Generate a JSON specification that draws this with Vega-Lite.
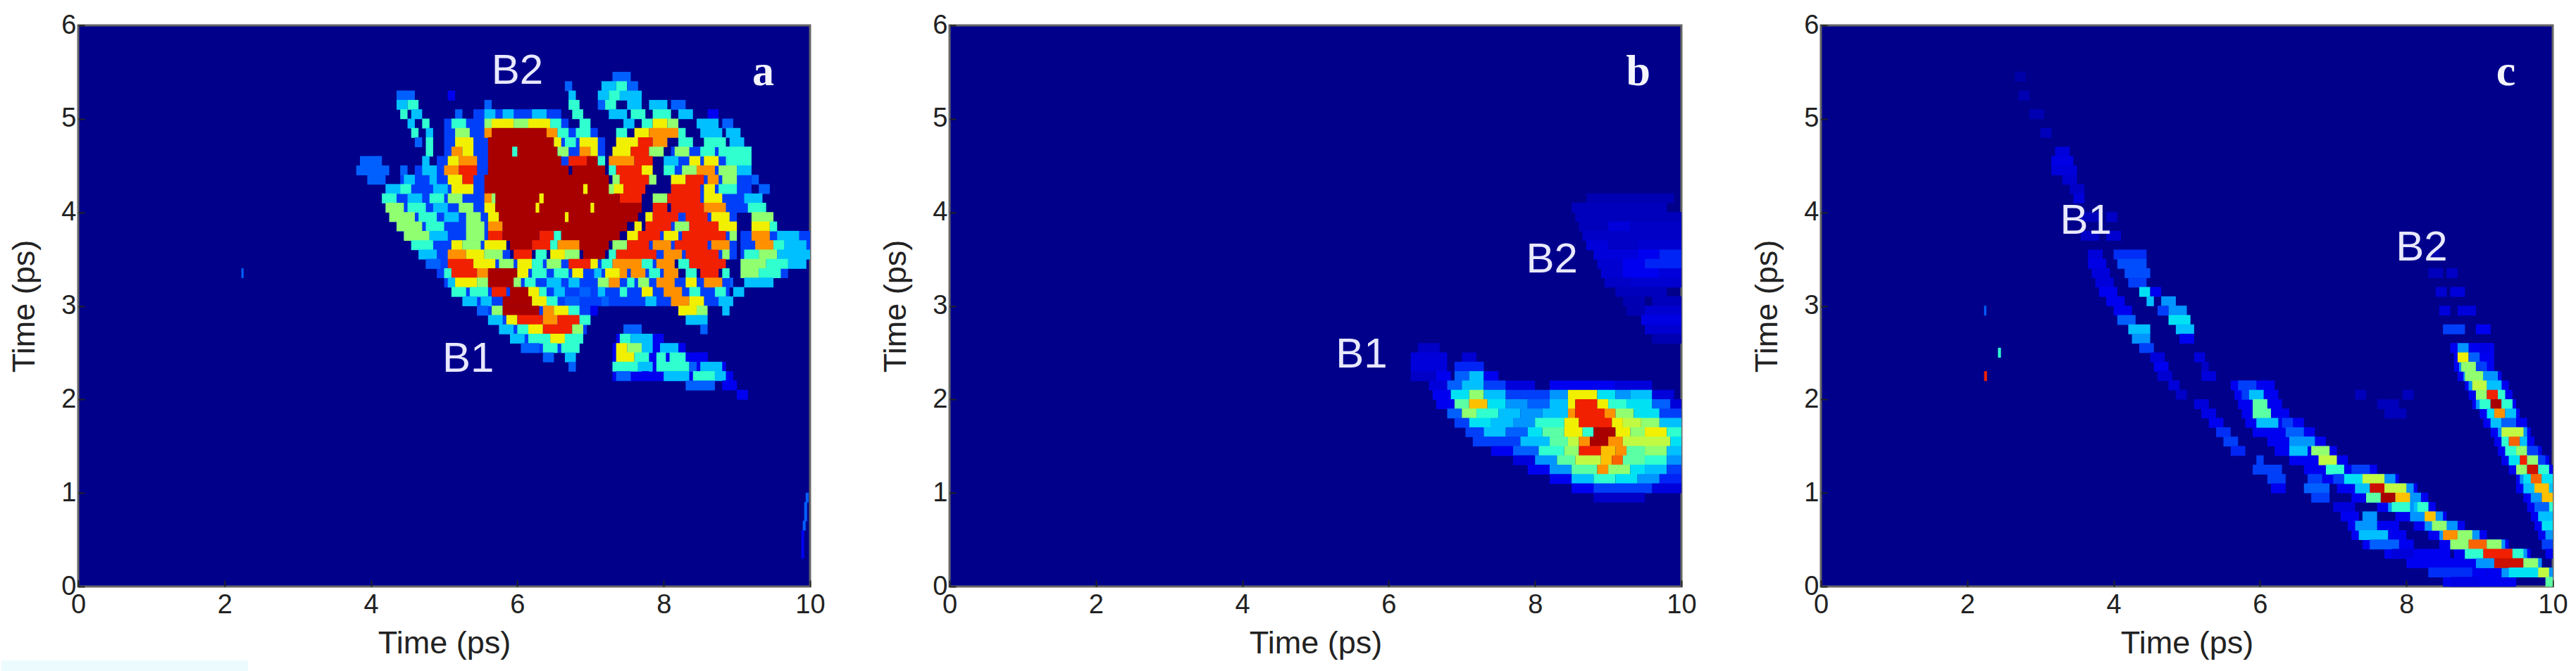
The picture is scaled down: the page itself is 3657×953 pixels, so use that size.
{"$schema":"https://vega.github.io/schema/vega-lite/v6.json","padding":{"left":0,"top":15,"right":0,"bottom":0},"background":"white","spacing":75,
"config":{"view":{"fill":"#00008b","stroke":"#666666","strokeWidth":3},"axis":{"grid":false,"domain":false,"tickSize":-9,"tickColor":"#222222","tickWidth":2,"labelFont":"Liberation Sans","titleFont":"Liberation Sans","labelFontSize":38,"titleFontSize":45,"titleFontWeight":"normal","labelColor":"#222222","titleColor":"#222222","labelOverlap":false,"labelFlush":false,"format":"d"},"axisX":{"labelPadding":16,"titlePadding":13},"axisY":{"labelPadding":12,"titlePadding":29}},
"datasets":{
"smear":[{"x":-1.05,"e":2.32,"y":-0.92,"y2":-0.79}],
"ta":[{"x":6.0,"y":5.51,"t":"B2"},{"x":5.33,"y":2.43,"t":"B1"}],"la":[{"x":9.36,"y":5.5,"t":"a"}],
"tb":[{"x":8.23,"y":3.49,"t":"B2"},{"x":5.63,"y":2.48,"t":"B1"}],"lb":[{"x":9.41,"y":5.5,"t":"b"}],
"tc":[{"x":3.62,"y":3.91,"t":"B1"},{"x":8.21,"y":3.62,"t":"B2"}],"lc":[{"x":9.36,"y":5.5,"t":"c"}],
"ua":[{"x":5.4,"e":6.6,"y":5.05,"v":1.5},{"x":5,"e":6.7,"y":4.95,"v":1.5},{"x":5,"e":7.1,"y":4.85,"v":1.5},{"x":5,"e":7.2,"y":4.75,"v":1.5},{"x":5,"e":7.2,"y":4.65,"v":1.5},{"x":4.9,"e":7.2,"y":4.55,"v":1.5},{"x":4.6,"e":5.6,"y":4.45,"v":1.5},{"x":4.4,"e":5.6,"y":4.35,"v":1.5},{"x":4.2,"e":5.6,"y":4.25,"v":1.5},{"x":4.15,"e":5.6,"y":4.15,"v":1.5},{"x":4.2,"e":5.6,"y":4.05,"v":1.5},{"x":4.25,"e":5.6,"y":3.95,"v":1.5},{"x":4.35,"e":5.6,"y":3.85,"v":1.5},{"x":4.45,"e":5.6,"y":3.75,"v":1.5},{"x":4.55,"e":5.6,"y":3.65,"v":1.5},{"x":4.65,"e":5.9,"y":3.55,"v":1.5},{"x":4.75,"e":7.9,"y":3.45,"v":1.5},{"x":4.9,"e":8,"y":3.35,"v":1.5},{"x":5,"e":8.9,"y":3.25,"v":1.5},{"x":5.1,"e":8.9,"y":3.15,"v":1.5},{"x":5.25,"e":8.9,"y":3.05,"v":1.5},{"x":5.45,"e":7,"y":2.95,"v":1.5},{"x":5.6,"e":7,"y":2.85,"v":1.5},{"x":5.75,"e":6.95,"y":2.75,"v":1.5},{"x":5.9,"e":6.9,"y":2.65,"v":1.5},{"x":6.05,"e":6.85,"y":2.55,"v":1.5},{"x":8.1,"e":9.2,"y":4.65,"v":1.5},{"x":8.1,"e":9.2,"y":4.55,"v":1.5},{"x":8.1,"e":9.2,"y":4.45,"v":1.5},{"x":8.1,"e":9.2,"y":4.35,"v":1.5},{"x":8.1,"e":9.2,"y":4.25,"v":1.5},{"x":8.1,"e":9.2,"y":4.15,"v":1.5},{"x":8.1,"e":9.2,"y":4.05,"v":1.5},{"x":7.8,"e":9,"y":3.95,"v":1.5},{"x":7.8,"e":9,"y":3.85,"v":1.5},{"x":7.8,"e":9,"y":3.75,"v":1.5},{"x":7.8,"e":9,"y":3.65,"v":1.5},{"x":7.8,"e":9,"y":3.55,"v":1.5},{"x":9.05,"e":10,"y":3.75,"v":1.5},{"x":9.05,"e":10,"y":3.65,"v":1.5},{"x":9.05,"e":10,"y":3.55,"v":1.5},{"x":9.05,"e":9.9,"y":3.45,"v":1.5},{"x":9.05,"e":9.7,"y":3.35,"v":1.5},{"x":7.35,"e":8.0,"y":2.65,"v":1},{"x":7.3,"e":8.3,"y":2.55,"v":1},{"x":7.3,"e":8.6,"y":2.45,"v":1},{"x":7.3,"e":8.85,"y":2.35,"v":1},{"x":7.3,"e":8.95,"y":2.25,"v":1}],
"uc":[{"x":5.6,"e":6.2,"y":2.15,"v":1},{"x":5.65,"e":6.25,"y":2.05,"v":1},{"x":5.7,"e":6.3,"y":1.95,"v":1},{"x":5.75,"e":6.4,"y":1.85,"v":1},{"x":5.8,"e":6.6,"y":1.75,"v":1},{"x":5.9,"e":6.75,"y":1.65,"v":1},{"x":6.1,"e":6.9,"y":1.55,"v":1},{"x":6.2,"e":7.05,"y":1.45,"v":1},{"x":6.4,"e":7.2,"y":1.35,"v":1},{"x":6.6,"e":7.6,"y":1.25,"v":1},{"x":6.85,"e":7.9,"y":1.15,"v":1},{"x":7.05,"e":8.15,"y":1.05,"v":1},{"x":7.25,"e":8.3,"y":0.95,"v":1},{"x":7.6,"e":8.4,"y":0.85,"v":1},{"x":7.85,"e":8.55,"y":0.75,"v":1},{"x":8.1,"e":8.8,"y":0.65,"v":1},{"x":8.3,"e":9.1,"y":0.55,"v":1},{"x":8.45,"e":9.4,"y":0.45,"v":1},{"x":8.65,"e":9.7,"y":0.35,"v":1},{"x":8.8,"e":9.85,"y":0.25,"v":1},{"x":9.1,"e":10,"y":0.15,"v":1},{"x":7.2,"e":7.9,"y":0.65,"v":1},{"x":7.25,"e":8,"y":0.55,"v":1},{"x":7.4,"e":8.1,"y":0.45,"v":1},{"x":7.7,"e":8.6,"y":0.35,"v":1},{"x":8,"e":8.9,"y":0.25,"v":1},{"x":8.3,"e":9.1,"y":0.15,"v":1},{"x":8.5,"e":9.5,"y":0.05,"v":1},{"x":8.6,"e":9.2,"y":2.55,"v":1},{"x":8.65,"e":9.2,"y":2.45,"v":1},{"x":8.65,"e":9.2,"y":2.35,"v":1},{"x":8.7,"e":9.3,"y":2.25,"v":1},{"x":8.8,"e":9.4,"y":2.15,"v":1},{"x":8.85,"e":9.45,"y":2.05,"v":1},{"x":8.9,"e":9.5,"y":1.95,"v":1},{"x":9,"e":9.55,"y":1.85,"v":1},{"x":9.05,"e":9.65,"y":1.75,"v":1},{"x":9.15,"e":9.7,"y":1.65,"v":1},{"x":9.2,"e":9.75,"y":1.55,"v":1},{"x":9.25,"e":9.85,"y":1.45,"v":1},{"x":9.3,"e":9.95,"y":1.35,"v":1},{"x":9.4,"e":10,"y":1.25,"v":1},{"x":9.5,"e":10,"y":1.15,"v":1},{"x":9.5,"e":10,"y":1.05,"v":1},{"x":9.6,"e":10,"y":0.95,"v":1},{"x":9.65,"e":10,"y":0.85,"v":1},{"x":9.7,"e":10,"y":0.75,"v":1},{"x":9.75,"e":10,"y":0.65,"v":1},{"x":9.8,"e":10,"y":0.55,"v":1},
{"x":7.15,"e":7.85,"y":1.15,"v":2.5},{"x":7.3,"e":8.1,"y":1.05,"v":2.5},{"x":7.45,"e":8.2,"y":0.95,"v":2.5},{"x":7.75,"e":8.3,"y":0.85,"v":2.5},{"x":8.05,"e":8.5,"y":0.75,"v":2.5},{"x":8.25,"e":8.7,"y":0.65,"v":2.5},{"x":8.45,"e":9,"y":0.55,"v":2.5},{"x":8.6,"e":9.35,"y":0.45,"v":2.5},{"x":8.8,"e":9.65,"y":0.35,"v":2.5},{"x":9,"e":9.85,"y":0.25,"v":2.5},{"x":9.3,"e":10,"y":0.15,"v":2.5},{"x":8.72,"e":9.05,"y":2.35,"v":2.5},{"x":8.78,"e":9.2,"y":2.25,"v":2.5},{"x":8.85,"e":9.3,"y":2.15,"v":2.5},{"x":8.95,"e":9.45,"y":1.95,"v":2.5},{"x":9.25,"e":9.65,"y":1.65,"v":2.5},{"x":9.4,"e":9.85,"y":1.35,"v":2.5},{"x":9.55,"e":10,"y":1.15,"v":2.5},{"x":9.6,"e":10,"y":1.05,"v":2.5}],
"a":[
{"x":7.3,"e":7.55,"y":5.45,"v":2},
{"x":6.65,"e":6.75,"y":5.35,"v":2},{"x":7.15,"e":7.35,"y":5.35,"v":3},{"x":7.35,"e":7.5,"y":5.35,"v":4},{"x":7.5,"e":7.65,"y":5.35,"v":2},
{"x":4.35,"e":4.6,"y":5.25,"v":2},{"x":5.05,"e":5.15,"y":5.25,"v":1},{"x":6.7,"e":6.8,"y":5.25,"v":3},{"x":7.1,"e":7.25,"y":5.25,"v":3},{"x":7.25,"e":7.4,"y":5.25,"v":4},{"x":7.4,"e":7.7,"y":5.25,"v":3},
{"x":4.35,"e":4.5,"y":5.15,"v":3},{"x":4.5,"e":4.65,"y":5.15,"v":4},{"x":5.55,"e":5.65,"y":5.15,"v":2},{"x":6.7,"e":6.85,"y":5.15,"v":4},{"x":7.1,"e":7.2,"y":5.15,"v":2},{"x":7.2,"e":7.35,"y":5.15,"v":4},{"x":7.5,"e":7.7,"y":5.15,"v":3},{"x":7.8,"e":8.05,"y":5.15,"v":3},{"x":8.1,"e":8.3,"y":5.15,"v":2},
{"x":4.4,"e":4.5,"y":5.05,"v":4},{"x":4.55,"e":4.7,"y":5.05,"v":3},{"x":5.15,"e":5.25,"y":5.05,"v":2},{"x":5.55,"e":5.7,"y":5.05,"v":3},{"x":5.8,"e":5.95,"y":5.05,"v":3},{"x":6.2,"e":6.4,"y":5.05,"v":3},{"x":6.75,"e":6.9,"y":5.05,"v":4},{"x":7.25,"e":7.5,"y":5.05,"v":3},{"x":7.55,"e":7.75,"y":5.05,"v":4},{"x":7.85,"e":8.1,"y":5.05,"v":4},{"x":8.2,"e":8.4,"y":5.05,"v":3},{"x":8.6,"e":8.75,"y":5.05,"v":1},
{"x":4.5,"e":4.6,"y":4.95,"v":3},{"x":4.7,"e":4.8,"y":4.95,"v":4},{"x":5.1,"e":5.3,"y":4.95,"v":4},{"x":5.55,"e":5.65,"y":4.95,"v":5},{"x":5.65,"e":5.95,"y":4.95,"v":6},{"x":5.95,"e":6.15,"y":4.95,"v":5},{"x":6.15,"e":6.45,"y":4.95,"v":6},{"x":6.45,"e":6.6,"y":4.95,"v":4},{"x":6.85,"e":7,"y":4.95,"v":4},{"x":7.45,"e":7.6,"y":4.95,"v":3},{"x":7.7,"e":7.85,"y":4.95,"v":4},{"x":7.85,"e":8.05,"y":4.95,"v":6},{"x":8.05,"e":8.2,"y":4.95,"v":5},{"x":8.45,"e":8.75,"y":4.95,"v":3},{"x":8.8,"e":8.95,"y":4.95,"v":2},
{"x":4.55,"e":4.65,"y":4.85,"v":4},{"x":4.75,"e":4.85,"y":4.85,"v":3},{"x":5.15,"e":5.35,"y":4.85,"v":5},{"x":5.55,"e":5.65,"y":4.85,"v":7},{"x":5.65,"e":6.4,"y":4.85,"v":9},{"x":6.4,"e":6.55,"y":4.85,"v":7},{"x":6.55,"e":6.7,"y":4.85,"v":4},{"x":6.8,"e":7,"y":4.85,"v":4},{"x":7.35,"e":7.5,"y":4.85,"v":4},{"x":7.6,"e":7.8,"y":4.85,"v":6},{"x":7.8,"e":8.2,"y":4.85,"v":7},{"x":8.2,"e":8.3,"y":4.85,"v":4},{"x":8.5,"e":8.8,"y":4.85,"v":3},{"x":8.85,"e":9.05,"y":4.85,"v":3},
{"x":4.6,"e":4.7,"y":4.75,"v":2},{"x":4.75,"e":4.85,"y":4.75,"v":4},{"x":5.15,"e":5.4,"y":4.75,"v":6},{"x":5.6,"e":6.5,"y":4.75,"v":9},{"x":6.5,"e":6.6,"y":4.75,"v":6},{"x":6.65,"e":6.8,"y":4.75,"v":4},{"x":6.85,"e":7.1,"y":4.75,"v":6},{"x":7.35,"e":7.65,"y":4.75,"v":6},{"x":7.65,"e":7.85,"y":4.75,"v":8},{"x":7.85,"e":8.05,"y":4.75,"v":7},{"x":8.2,"e":8.4,"y":4.75,"v":4},{"x":8.55,"e":8.85,"y":4.75,"v":4},{"x":8.9,"e":9.1,"y":4.75,"v":3},
{"x":4.75,"e":4.85,"y":4.65,"v":4},{"x":5.1,"e":5.25,"y":4.65,"v":7},{"x":5.25,"e":5.4,"y":4.65,"v":6},{"x":5.6,"e":6.55,"y":4.65,"v":9},{"x":6.55,"e":6.7,"y":4.65,"v":5},{"x":6.85,"e":7,"y":4.65,"v":7},{"x":7,"e":7.1,"y":4.65,"v":6},{"x":7.3,"e":7.55,"y":4.65,"v":6},{"x":7.55,"e":7.8,"y":4.65,"v":8},{"x":7.8,"e":8,"y":4.65,"v":5},{"x":8.15,"e":8.35,"y":4.65,"v":5},{"x":8.5,"e":8.7,"y":4.65,"v":4},{"x":8.75,"e":9.2,"y":4.65,"v":4},
{"x":3.85,"e":4.15,"y":4.55,"v":2},{"x":4.7,"e":4.8,"y":4.55,"v":3},{"x":5.05,"e":5.2,"y":4.55,"v":6},{"x":5.2,"e":5.45,"y":4.55,"v":7},{"x":5.6,"e":6.6,"y":4.55,"v":9},{"x":6.7,"e":6.95,"y":4.55,"v":8},{"x":6.95,"e":7.1,"y":4.55,"v":9},{"x":7.1,"e":7.2,"y":4.55,"v":4},{"x":7.25,"e":7.6,"y":4.55,"v":7},{"x":7.6,"e":7.85,"y":4.55,"v":8},{"x":8,"e":8.2,"y":4.55,"v":3},{"x":8.35,"e":8.5,"y":4.55,"v":6},{"x":8.55,"e":8.75,"y":4.55,"v":6},{"x":8.85,"e":9.2,"y":4.55,"v":4},
{"x":3.8,"e":4.25,"y":4.45,"v":2},{"x":4.4,"e":4.5,"y":4.45,"v":2},{"x":4.7,"e":4.9,"y":4.45,"v":3},{"x":5,"e":5.2,"y":4.45,"v":7},{"x":5.2,"e":5.45,"y":4.45,"v":8},{"x":5.6,"e":6.7,"y":4.45,"v":9},{"x":6.75,"e":7.2,"y":4.45,"v":9},{"x":7.25,"e":7.35,"y":4.45,"v":4},{"x":7.35,"e":7.7,"y":4.45,"v":8},{"x":7.7,"e":7.85,"y":4.45,"v":6},{"x":8,"e":8.15,"y":4.45,"v":4},{"x":8.25,"e":8.45,"y":4.45,"v":5},{"x":8.45,"e":8.7,"y":4.45,"v":7},{"x":8.75,"e":9,"y":4.45,"v":5},{"x":9,"e":9.2,"y":4.45,"v":3},
{"x":3.95,"e":4.2,"y":4.35,"v":2},{"x":4.45,"e":4.6,"y":4.35,"v":3},{"x":4.8,"e":4.9,"y":4.35,"v":3},{"x":5.05,"e":5.25,"y":4.35,"v":6},{"x":5.25,"e":5.4,"y":4.35,"v":8},{"x":5.55,"e":7.25,"y":4.35,"v":9},{"x":7.3,"e":7.4,"y":4.35,"v":5},{"x":7.4,"e":7.8,"y":4.35,"v":8},{"x":7.8,"e":7.9,"y":4.35,"v":5},{"x":8.1,"e":8.3,"y":4.35,"v":6},{"x":8.3,"e":8.55,"y":4.35,"v":8},{"x":8.6,"e":8.75,"y":4.35,"v":7},{"x":8.8,"e":9,"y":4.35,"v":5},{"x":9.2,"e":9.3,"y":4.35,"v":2},
{"x":4.2,"e":4.4,"y":4.25,"v":3},{"x":4.4,"e":4.55,"y":4.25,"v":4},{"x":4.85,"e":5.05,"y":4.25,"v":3},{"x":5.1,"e":5.4,"y":4.25,"v":6},{"x":5.55,"e":7.3,"y":4.25,"v":9},{"x":7.3,"e":7.45,"y":4.25,"v":6},{"x":7.45,"e":7.75,"y":4.25,"v":8},{"x":8.1,"e":8.5,"y":4.25,"v":8},{"x":8.55,"e":8.7,"y":4.25,"v":6},{"x":8.75,"e":9,"y":4.25,"v":4},{"x":9.3,"e":9.45,"y":4.25,"v":2},
{"x":4.15,"e":4.35,"y":4.15,"v":4},{"x":4.5,"e":4.7,"y":4.15,"v":3},{"x":4.8,"e":5,"y":4.15,"v":4},{"x":5.05,"e":5.25,"y":4.15,"v":5},{"x":5.55,"e":5.7,"y":4.15,"v":7},{"x":5.7,"e":7.4,"y":4.15,"v":9},{"x":7.4,"e":7.7,"y":4.15,"v":8},{"x":7.85,"e":8.05,"y":4.15,"v":5},{"x":8.05,"e":8.5,"y":4.15,"v":8},{"x":8.55,"e":8.8,"y":4.15,"v":6},{"x":9.1,"e":9.35,"y":4.15,"v":3},
{"x":4.2,"e":4.45,"y":4.05,"v":5},{"x":4.5,"e":4.75,"y":4.05,"v":4},{"x":4.85,"e":5.05,"y":4.05,"v":3},{"x":5.2,"e":5.4,"y":4.05,"v":5},{"x":5.55,"e":5.7,"y":4.05,"v":6},{"x":5.7,"e":7.7,"y":4.05,"v":9},{"x":7.85,"e":8.05,"y":4.05,"v":8},{"x":8.1,"e":8.55,"y":4.05,"v":8},{"x":8.55,"e":8.85,"y":4.05,"v":7},{"x":9.15,"e":9.4,"y":4.05,"v":4},
{"x":4.25,"e":4.6,"y":3.95,"v":5},{"x":4.65,"e":4.9,"y":3.95,"v":4},{"x":5,"e":5.2,"y":3.95,"v":3},{"x":5.3,"e":5.5,"y":3.95,"v":5},{"x":5.6,"e":5.75,"y":3.95,"v":6},{"x":5.75,"e":7.65,"y":3.95,"v":9},{"x":7.75,"e":7.85,"y":3.95,"v":6},{"x":7.85,"e":8.2,"y":3.95,"v":8},{"x":8.3,"e":8.6,"y":3.95,"v":8},{"x":8.65,"e":8.9,"y":3.95,"v":6},{"x":9.2,"e":9.5,"y":3.95,"v":5},
{"x":4.35,"e":4.7,"y":3.85,"v":5},{"x":4.75,"e":5,"y":3.85,"v":4},{"x":5.3,"e":5.55,"y":3.85,"v":5},{"x":5.6,"e":5.8,"y":3.85,"v":7},{"x":5.8,"e":7.5,"y":3.85,"v":9},{"x":7.6,"e":7.7,"y":3.85,"v":6},{"x":7.75,"e":8.1,"y":3.85,"v":8},{"x":8.15,"e":8.35,"y":3.85,"v":5},{"x":8.35,"e":8.75,"y":3.85,"v":8},{"x":8.75,"e":9,"y":3.85,"v":6},{"x":9.2,"e":9.45,"y":3.85,"v":6},{"x":9.45,"e":9.55,"y":3.85,"v":4},
{"x":4.45,"e":4.8,"y":3.75,"v":5},{"x":4.8,"e":5.05,"y":3.75,"v":3},{"x":5.3,"e":5.55,"y":3.75,"v":5},{"x":5.6,"e":5.8,"y":3.75,"v":8},{"x":5.8,"e":6.3,"y":3.75,"v":9},{"x":6.3,"e":6.5,"y":3.75,"v":8},{"x":6.5,"e":6.6,"y":3.75,"v":4},{"x":6.6,"e":7.4,"y":3.75,"v":9},{"x":7.5,"e":7.65,"y":3.75,"v":6},{"x":7.65,"e":7.95,"y":3.75,"v":8},{"x":8,"e":8.2,"y":3.75,"v":6},{"x":8.25,"e":8.85,"y":3.75,"v":8},{"x":8.9,"e":9,"y":3.75,"v":5},{"x":9.2,"e":9.45,"y":3.75,"v":7},{"x":9.55,"e":9.85,"y":3.75,"v":3},
{"x":4.55,"e":4.85,"y":3.65,"v":4},{"x":5.1,"e":5.25,"y":3.65,"v":6},{"x":5.25,"e":5.5,"y":3.65,"v":5},{"x":5.55,"e":5.85,"y":3.65,"v":6},{"x":5.9,"e":6.2,"y":3.65,"v":9},{"x":6.2,"e":6.45,"y":3.65,"v":8},{"x":6.45,"e":6.55,"y":3.65,"v":4},{"x":6.55,"e":6.85,"y":3.65,"v":7},{"x":6.85,"e":7.25,"y":3.65,"v":9},{"x":7.3,"e":7.5,"y":3.65,"v":5},{"x":7.5,"e":7.8,"y":3.65,"v":8},{"x":7.85,"e":8.1,"y":3.65,"v":7},{"x":8.15,"e":8.6,"y":3.65,"v":8},{"x":8.65,"e":8.9,"y":3.65,"v":7},{"x":9.25,"e":9.5,"y":3.65,"v":7},{"x":9.5,"e":9.65,"y":3.65,"v":4},{"x":9.65,"e":9.95,"y":3.65,"v":3},
{"x":4.65,"e":4.9,"y":3.55,"v":3},{"x":5.05,"e":5.3,"y":3.55,"v":7},{"x":5.3,"e":5.55,"y":3.55,"v":6},{"x":5.55,"e":5.8,"y":3.55,"v":5},{"x":5.95,"e":6.2,"y":3.55,"v":8},{"x":6.25,"e":6.4,"y":3.55,"v":4},{"x":6.45,"e":6.65,"y":3.55,"v":6},{"x":6.65,"e":6.85,"y":3.55,"v":5},{"x":6.9,"e":7.2,"y":3.55,"v":9},{"x":7.25,"e":7.35,"y":3.55,"v":4},{"x":7.35,"e":7.9,"y":3.55,"v":8},{"x":8,"e":8.25,"y":3.55,"v":7},{"x":8.3,"e":8.75,"y":3.55,"v":8},{"x":8.8,"e":8.9,"y":3.55,"v":5},{"x":9.1,"e":9.3,"y":3.55,"v":4},{"x":9.3,"e":9.55,"y":3.55,"v":5},{"x":9.55,"e":10,"y":3.55,"v":3},
{"x":4.75,"e":4.95,"y":3.45,"v":2},{"x":5.05,"e":5.4,"y":3.45,"v":8},{"x":5.4,"e":5.7,"y":3.45,"v":6},{"x":5.75,"e":5.95,"y":3.45,"v":5},{"x":6,"e":6.2,"y":3.45,"v":6},{"x":6.2,"e":6.35,"y":3.45,"v":4},{"x":6.4,"e":6.6,"y":3.45,"v":5},{"x":6.7,"e":7,"y":3.45,"v":8},{"x":7,"e":7.1,"y":3.45,"v":6},{"x":7.15,"e":7.3,"y":3.45,"v":4},{"x":7.3,"e":7.7,"y":3.45,"v":7},{"x":7.7,"e":7.85,"y":3.45,"v":4},{"x":7.9,"e":8.15,"y":3.45,"v":7},{"x":8.2,"e":8.35,"y":3.45,"v":4},{"x":8.35,"e":8.85,"y":3.45,"v":8},{"x":9.05,"e":9.4,"y":3.45,"v":5},{"x":9.4,"e":9.7,"y":3.45,"v":4},{"x":9.7,"e":9.95,"y":3.45,"v":3},
{"x":5,"e":5.1,"y":3.35,"v":4},{"x":5.1,"e":5.45,"y":3.35,"v":8},{"x":5.45,"e":5.6,"y":3.35,"v":7},{"x":5.6,"e":6,"y":3.35,"v":9},{"x":6,"e":6.15,"y":3.35,"v":6},{"x":6.2,"e":6.4,"y":3.35,"v":4},{"x":6.5,"e":6.7,"y":3.35,"v":4},{"x":6.75,"e":6.9,"y":3.35,"v":6},{"x":7.05,"e":7.15,"y":3.35,"v":3},{"x":7.2,"e":7.4,"y":3.35,"v":6},{"x":7.4,"e":7.5,"y":3.35,"v":7},{"x":7.55,"e":7.75,"y":3.35,"v":7},{"x":7.8,"e":7.95,"y":3.35,"v":4},{"x":8,"e":8.2,"y":3.35,"v":7},{"x":8.3,"e":8.45,"y":3.35,"v":4},{"x":8.5,"e":8.75,"y":3.35,"v":8},{"x":8.8,"e":8.9,"y":3.35,"v":4},{"x":9.05,"e":9.3,"y":3.35,"v":5},{"x":9.3,"e":9.6,"y":3.35,"v":4},{"x":2.23,"e":2.26,"y":3.35,"v":2},
{"x":5.05,"e":5.15,"y":3.25,"v":3},{"x":5.15,"e":5.45,"y":3.25,"v":6},{"x":5.45,"e":5.6,"y":3.25,"v":5},{"x":5.6,"e":5.95,"y":3.25,"v":9},{"x":5.95,"e":6.05,"y":3.25,"v":5},{"x":6.1,"e":6.25,"y":3.25,"v":4},{"x":6.4,"e":6.6,"y":3.25,"v":3},{"x":6.7,"e":6.85,"y":3.25,"v":3},{"x":7.1,"e":7.25,"y":3.25,"v":5},{"x":7.25,"e":7.4,"y":3.25,"v":7},{"x":7.5,"e":7.6,"y":3.25,"v":4},{"x":7.65,"e":7.8,"y":3.25,"v":5},{"x":7.9,"e":8.15,"y":3.25,"v":7},{"x":8.3,"e":8.45,"y":3.25,"v":6},{"x":8.55,"e":8.8,"y":3.25,"v":7},{"x":8.9,"e":8.95,"y":3.25,"v":2},{"x":9.1,"e":9.5,"y":3.25,"v":3},
{"x":5.1,"e":5.3,"y":3.15,"v":4},{"x":5.35,"e":5.6,"y":3.15,"v":4},{"x":5.65,"e":5.85,"y":3.15,"v":8},{"x":5.9,"e":6.15,"y":3.15,"v":9},{"x":6.15,"e":6.3,"y":3.15,"v":6},{"x":6.3,"e":6.4,"y":3.15,"v":4},{"x":6.5,"e":6.65,"y":3.15,"v":3},{"x":6.85,"e":7,"y":3.15,"v":2},{"x":7.1,"e":7.2,"y":3.15,"v":3},{"x":7.4,"e":7.5,"y":3.15,"v":4},{"x":7.7,"e":7.85,"y":3.15,"v":6},{"x":8,"e":8.25,"y":3.15,"v":7},{"x":8.35,"e":8.5,"y":3.15,"v":4},{"x":8.7,"e":8.85,"y":3.15,"v":4},{"x":8.95,"e":9.1,"y":3.15,"v":3},
{"x":5.25,"e":5.45,"y":3.05,"v":3},{"x":5.5,"e":5.65,"y":3.05,"v":3},{"x":5.8,"e":6.2,"y":3.05,"v":9},{"x":6.2,"e":6.4,"y":3.05,"v":6},{"x":6.4,"e":6.55,"y":3.05,"v":4},{"x":6.65,"e":6.85,"y":3.05,"v":2},{"x":7.15,"e":7.25,"y":3.05,"v":2},{"x":7.75,"e":7.9,"y":3.05,"v":3},{"x":8.1,"e":8.35,"y":3.05,"v":7},{"x":8.35,"e":8.55,"y":3.05,"v":6},{"x":8.75,"e":8.95,"y":3.05,"v":3},
{"x":5.45,"e":5.6,"y":2.95,"v":2},{"x":5.65,"e":5.8,"y":2.95,"v":5},{"x":5.8,"e":6.3,"y":2.95,"v":9},{"x":6.35,"e":6.5,"y":2.95,"v":7},{"x":6.5,"e":6.7,"y":2.95,"v":6},{"x":6.7,"e":6.85,"y":2.95,"v":4},{"x":7,"e":7.1,"y":2.95,"v":1},{"x":8.2,"e":8.45,"y":2.95,"v":6},{"x":8.45,"e":8.6,"y":2.95,"v":5},{"x":8.8,"e":8.9,"y":2.95,"v":3},
{"x":5.6,"e":5.8,"y":2.85,"v":3},{"x":5.85,"e":6,"y":2.85,"v":6},{"x":6,"e":6.35,"y":2.85,"v":8},{"x":6.35,"e":6.55,"y":2.85,"v":7},{"x":6.55,"e":6.85,"y":2.85,"v":8},{"x":6.85,"e":7,"y":2.85,"v":4},{"x":8.3,"e":8.6,"y":2.85,"v":3},
{"x":5.75,"e":5.95,"y":2.75,"v":3},{"x":6,"e":6.15,"y":2.75,"v":4},{"x":6.15,"e":6.35,"y":2.75,"v":6},{"x":6.35,"e":6.75,"y":2.75,"v":8},{"x":6.75,"e":6.9,"y":2.75,"v":5},{"x":7.45,"e":7.7,"y":2.75,"v":2},{"x":8.5,"e":8.6,"y":2.75,"v":2},
{"x":5.9,"e":6.1,"y":2.65,"v":3},{"x":6.15,"e":6.45,"y":2.65,"v":4},{"x":6.45,"e":6.65,"y":2.65,"v":6},{"x":6.65,"e":6.9,"y":2.65,"v":4},{"x":7.4,"e":7.55,"y":2.65,"v":4},{"x":7.55,"e":7.85,"y":2.65,"v":3},
{"x":6.05,"e":6.3,"y":2.55,"v":2},{"x":6.35,"e":6.55,"y":2.55,"v":4},{"x":6.6,"e":6.85,"y":2.55,"v":4},{"x":7.35,"e":7.5,"y":2.55,"v":6},{"x":7.5,"e":7.7,"y":2.55,"v":5},{"x":7.7,"e":7.85,"y":2.55,"v":3},{"x":7.95,"e":8.2,"y":2.55,"v":3},
{"x":6.35,"e":6.5,"y":2.45,"v":2},{"x":6.65,"e":6.8,"y":2.45,"v":3},{"x":7.35,"e":7.6,"y":2.45,"v":6},{"x":7.6,"e":7.8,"y":2.45,"v":4},{"x":7.9,"e":8.03,"y":2.45,"v":4},{"x":8.08,"e":8.3,"y":2.45,"v":4},{"x":8.45,"e":8.6,"y":2.45,"v":1},
{"x":6.7,"e":6.8,"y":2.35,"v":2},{"x":7.3,"e":7.65,"y":2.35,"v":4},{"x":7.65,"e":7.85,"y":2.35,"v":3},{"x":7.9,"e":8.35,"y":2.35,"v":4},{"x":8.35,"e":8.45,"y":2.35,"v":2},{"x":8.5,"e":8.8,"y":2.35,"v":3},
{"x":7.35,"e":7.55,"y":2.25,"v":2},{"x":7.7,"e":7.8,"y":2.25,"v":1},{"x":8,"e":8.35,"y":2.25,"v":3},{"x":8.4,"e":8.7,"y":2.25,"v":4},{"x":8.7,"e":8.85,"y":2.25,"v":3},
{"x":8.3,"e":8.7,"y":2.15,"v":2},{"x":8.8,"e":9,"y":2.15,"v":1},{"x":9,"e":9.15,"y":2.05,"v":1},
{"x":9.94,"e":9.98,"y":0.95,"v":2},{"x":9.92,"e":9.96,"y":0.85,"v":2},{"x":9.92,"e":9.96,"y":0.75,"v":2},{"x":9.9,"e":9.94,"y":0.65,"v":2},{"x":9.88,"e":9.92,"y":0.55,"v":1},{"x":9.88,"e":9.92,"y":0.45,"v":1},{"x":9.88,"e":9.92,"y":0.35,"v":1},
{"x":5.93,"e":6,"y":4.65,"v":4},{"x":5.65,"e":5.7,"y":4.15,"v":5},{"x":6.3,"e":6.36,"y":4.15,"v":6},{"x":6.25,"e":6.3,"y":4.05,"v":6},{"x":6.65,"e":6.7,"y":3.95,"v":6},{"x":7.0,"e":7.05,"y":4.05,"v":6},{"x":7.25,"e":7.32,"y":4.25,"v":5},{"x":6.9,"e":6.96,"y":4.25,"v":6}],
"b":[
{"x":8.7,"e":9.9,"y":4.15,"v":0.4},{"x":8.5,"e":9.8,"y":4.05,"v":0.5},{"x":8.55,"e":10,"y":3.95,"v":0.5},{"x":8.6,"e":9,"y":3.85,"v":0.5},{"x":9,"e":9.3,"y":3.85,"v":0.8},{"x":9.3,"e":10,"y":3.85,"v":0.6},{"x":8.65,"e":10,"y":3.75,"v":0.6},{"x":8.7,"e":9,"y":3.65,"v":0.8},{"x":9,"e":9.4,"y":3.65,"v":0.6},{"x":9.4,"e":10,"y":3.65,"v":0.7},{"x":8.8,"e":9.4,"y":3.55,"v":0.8},{"x":9.4,"e":9.7,"y":3.55,"v":1},{"x":9.7,"e":10,"y":3.55,"v":1.2},{"x":8.85,"e":9.2,"y":3.45,"v":0.7},{"x":9.2,"e":9.5,"y":3.45,"v":1},{"x":9.5,"e":10,"y":3.45,"v":1.2},{"x":8.9,"e":9.2,"y":3.35,"v":0.7},{"x":9.2,"e":9.7,"y":3.35,"v":1},{"x":9.7,"e":10,"y":3.35,"v":0.8},{"x":8.95,"e":9.3,"y":3.25,"v":0.6},{"x":9.3,"e":10,"y":3.25,"v":0.7},{"x":9.1,"e":9.8,"y":3.15,"v":0.5},{"x":9.2,"e":9.5,"y":3.05,"v":0.4},{"x":9.6,"e":10,"y":3.05,"v":0.5},{"x":9.25,"e":9.5,"y":2.95,"v":0.4},{"x":9.5,"e":10,"y":2.95,"v":0.7},{"x":9.45,"e":10,"y":2.85,"v":0.9},{"x":9.5,"e":10,"y":2.75,"v":0.7},{"x":9.6,"e":10,"y":2.65,"v":0.4},
{"x":6.4,"e":6.7,"y":2.55,"v":0.6},{"x":6.3,"e":6.8,"y":2.45,"v":0.8},{"x":7,"e":7.2,"y":2.45,"v":0.7},{"x":6.3,"e":6.8,"y":2.35,"v":0.8},{"x":6.9,"e":7.3,"y":2.35,"v":1.2},{"x":6.3,"e":6.65,"y":2.25,"v":0.6},{"x":6.65,"e":6.85,"y":2.25,"v":1},{"x":6.9,"e":7.1,"y":2.25,"v":2},{"x":7.1,"e":7.3,"y":2.25,"v":3},{"x":7.3,"e":7.5,"y":2.25,"v":1},
{"x":6.55,"e":6.8,"y":2.15,"v":0.8},{"x":6.8,"e":7,"y":2.15,"v":2},{"x":7,"e":7.3,"y":2.15,"v":3},{"x":7.3,"e":7.6,"y":2.15,"v":1.5},{"x":7.6,"e":8,"y":2.15,"v":0.8},{"x":8.2,"e":9.1,"y":2.15,"v":1},{"x":9.1,"e":9.6,"y":2.15,"v":0.8},
{"x":6.6,"e":6.85,"y":2.05,"v":1},{"x":6.85,"e":7.1,"y":2.05,"v":3.5},{"x":7.1,"e":7.3,"y":2.05,"v":5},{"x":7.3,"e":7.6,"y":2.05,"v":3},{"x":7.6,"e":8.2,"y":2.05,"v":1.5},{"x":8.2,"e":8.45,"y":2.05,"v":2.5},{"x":8.45,"e":8.85,"y":2.05,"v":6},{"x":8.85,"e":9.1,"y":2.05,"v":3.5},{"x":9.1,"e":9.3,"y":2.05,"v":2.5},{"x":9.3,"e":9.6,"y":2.05,"v":3},{"x":9.6,"e":9.9,"y":2.05,"v":0.8},
{"x":6.65,"e":6.9,"y":1.95,"v":1},{"x":6.9,"e":7.1,"y":1.95,"v":4.5},{"x":7.1,"e":7.35,"y":1.95,"v":6.5},{"x":7.35,"e":7.6,"y":1.95,"v":3.5},{"x":7.6,"e":7.9,"y":1.95,"v":2.5},{"x":7.9,"e":8.2,"y":1.95,"v":2},{"x":8.2,"e":8.45,"y":1.95,"v":3},{"x":8.45,"e":8.55,"y":1.95,"v":6},{"x":8.55,"e":8.85,"y":1.95,"v":8},{"x":8.85,"e":9,"y":1.95,"v":6},{"x":9,"e":9.25,"y":1.95,"v":4},{"x":9.25,"e":9.6,"y":1.95,"v":3.5},{"x":9.6,"e":9.85,"y":1.95,"v":2},{"x":9.85,"e":10,"y":1.95,"v":0.8},
{"x":6.8,"e":7,"y":1.85,"v":2},{"x":7,"e":7.2,"y":1.85,"v":5},{"x":7.2,"e":7.5,"y":1.85,"v":4},{"x":7.5,"e":7.8,"y":1.85,"v":3},{"x":7.8,"e":8.1,"y":1.85,"v":2.5},{"x":8.1,"e":8.45,"y":1.85,"v":3},{"x":8.45,"e":8.55,"y":1.85,"v":7},{"x":8.55,"e":8.95,"y":1.85,"v":8},{"x":8.95,"e":9.1,"y":1.85,"v":7},{"x":9.1,"e":9.35,"y":1.85,"v":5},{"x":9.35,"e":9.7,"y":1.85,"v":3.5},{"x":9.7,"e":10,"y":1.85,"v":1.5},
{"x":6.9,"e":7.1,"y":1.75,"v":1.5},{"x":7.1,"e":7.4,"y":1.75,"v":3.5},{"x":7.4,"e":7.7,"y":1.75,"v":3},{"x":7.7,"e":8,"y":1.75,"v":2.5},{"x":8,"e":8.4,"y":1.75,"v":4},{"x":8.4,"e":8.6,"y":1.75,"v":6},{"x":8.6,"e":9.05,"y":1.75,"v":8},{"x":9.05,"e":9.2,"y":1.75,"v":6},{"x":9.2,"e":9.45,"y":1.75,"v":5.5},{"x":9.45,"e":9.7,"y":1.75,"v":5},{"x":9.7,"e":10,"y":1.75,"v":3},
{"x":7.05,"e":7.3,"y":1.65,"v":1.5},{"x":7.3,"e":7.6,"y":1.65,"v":3},{"x":7.6,"e":7.9,"y":1.65,"v":2},{"x":7.9,"e":8.1,"y":1.65,"v":3.5},{"x":8.1,"e":8.4,"y":1.65,"v":4.5},{"x":8.4,"e":8.65,"y":1.65,"v":6},{"x":8.65,"e":8.8,"y":1.65,"v":4},{"x":8.8,"e":9.1,"y":1.65,"v":9},{"x":9.1,"e":9.3,"y":1.65,"v":6},{"x":9.3,"e":9.5,"y":1.65,"v":5},{"x":9.5,"e":9.8,"y":1.65,"v":6},{"x":9.8,"e":10,"y":1.65,"v":4},
{"x":7.15,"e":7.8,"y":1.55,"v":1.5},{"x":7.8,"e":8.2,"y":1.55,"v":3},{"x":8.2,"e":8.45,"y":1.55,"v":4.5},{"x":8.45,"e":8.6,"y":1.55,"v":5.5},{"x":8.6,"e":8.75,"y":1.55,"v":7},{"x":8.75,"e":9,"y":1.55,"v":9},{"x":9,"e":9.2,"y":1.55,"v":7},{"x":9.2,"e":9.85,"y":1.55,"v":5.5},{"x":9.85,"e":10,"y":1.55,"v":3.5},
{"x":7.4,"e":7.7,"y":1.45,"v":1},{"x":7.7,"e":8.05,"y":1.45,"v":2},{"x":8.05,"e":8.4,"y":1.45,"v":4},{"x":8.4,"e":8.6,"y":1.45,"v":5},{"x":8.6,"e":8.9,"y":1.45,"v":8},{"x":8.9,"e":9.1,"y":1.45,"v":6.5},{"x":9.1,"e":9.25,"y":1.45,"v":7},{"x":9.25,"e":9.5,"y":1.45,"v":4.5},{"x":9.5,"e":9.8,"y":1.45,"v":5},{"x":9.8,"e":10,"y":1.45,"v":3},
{"x":7.7,"e":8,"y":1.35,"v":0.8},{"x":8,"e":8.3,"y":1.35,"v":2.5},{"x":8.3,"e":8.55,"y":1.35,"v":4.5},{"x":8.55,"e":8.9,"y":1.35,"v":5.5},{"x":8.9,"e":9.05,"y":1.35,"v":6.5},{"x":9.05,"e":9.2,"y":1.35,"v":7.5},{"x":9.2,"e":9.5,"y":1.35,"v":4.5},{"x":9.5,"e":9.8,"y":1.35,"v":4},{"x":9.8,"e":10,"y":1.35,"v":2.5},
{"x":7.9,"e":8.2,"y":1.25,"v":1},{"x":8.2,"e":8.5,"y":1.25,"v":2.5},{"x":8.5,"e":8.85,"y":1.25,"v":4.5},{"x":8.85,"e":9,"y":1.25,"v":7},{"x":9,"e":9.3,"y":1.25,"v":5},{"x":9.3,"e":9.5,"y":1.25,"v":3.5},{"x":9.5,"e":9.8,"y":1.25,"v":3},{"x":9.8,"e":10,"y":1.25,"v":1.5},
{"x":8.2,"e":8.5,"y":1.15,"v":1},{"x":8.5,"e":8.8,"y":1.15,"v":3},{"x":8.8,"e":9.1,"y":1.15,"v":4},{"x":9.1,"e":9.4,"y":1.15,"v":3.5},{"x":9.4,"e":9.7,"y":1.15,"v":2.5},{"x":9.7,"e":10,"y":1.15,"v":1.2},
{"x":8.5,"e":8.8,"y":1.05,"v":1},{"x":8.8,"e":9.6,"y":1.05,"v":1.5},{"x":9.6,"e":10,"y":1.05,"v":0.8},{"x":8.8,"e":9.5,"y":0.95,"v":0.6}],
"c":[
{"x":2.65,"e":2.8,"y":5.45,"v":0.3},{"x":2.7,"e":2.85,"y":5.25,"v":0.4},{"x":2.85,"e":3.05,"y":5.05,"v":0.4},{"x":3,"e":3.15,"y":4.85,"v":0.5},{"x":3.2,"e":3.4,"y":4.65,"v":0.8},{"x":3.15,"e":3.45,"y":4.55,"v":0.9},{"x":3.15,"e":3.5,"y":4.45,"v":0.8},{"x":3.3,"e":3.5,"y":4.35,"v":0.7},{"x":3.4,"e":3.6,"y":4.25,"v":0.6},{"x":3.45,"e":3.6,"y":4.15,"v":0.8},{"x":3.55,"e":3.8,"y":3.95,"v":0.5},{"x":3.9,"e":4.05,"y":3.95,"v":0.6},{"x":3.55,"e":3.8,"y":3.75,"v":0.6},{"x":3.9,"e":4.1,"y":3.75,"v":0.7},
{"x":3.65,"e":3.85,"y":3.55,"v":0.8},{"x":4,"e":4.45,"y":3.55,"v":1.3},{"x":3.65,"e":3.9,"y":3.45,"v":0.9},{"x":4.05,"e":4.45,"y":3.45,"v":1.7},{"x":3.7,"e":3.95,"y":3.35,"v":0.8},{"x":4.15,"e":4.5,"y":3.35,"v":1.7},{"x":3.75,"e":4,"y":3.25,"v":0.8},{"x":4.2,"e":4.45,"y":3.25,"v":1.5},{"x":3.8,"e":4.05,"y":3.15,"v":1},{"x":4.35,"e":4.5,"y":3.15,"v":3.5},{"x":4.5,"e":4.65,"y":3.15,"v":1},{"x":3.9,"e":4.15,"y":3.05,"v":1},{"x":4.45,"e":4.55,"y":3.05,"v":3},{"x":4.65,"e":4.85,"y":3.05,"v":2.5},{"x":4,"e":4.25,"y":2.95,"v":1},{"x":4.6,"e":4.75,"y":2.95,"v":1.5},{"x":4.75,"e":5,"y":2.95,"v":2.5},{"x":4.05,"e":4.3,"y":2.85,"v":2},{"x":4.75,"e":5.05,"y":2.85,"v":3.5},{"x":4.2,"e":4.5,"y":2.75,"v":3},{"x":4.85,"e":5.1,"y":2.75,"v":3},{"x":4.25,"e":4.5,"y":2.65,"v":2.5},{"x":4.9,"e":5.1,"y":2.65,"v":1},{"x":4.35,"e":4.55,"y":2.55,"v":1.5},{"x":4.5,"e":4.7,"y":2.45,"v":0.8},{"x":5.1,"e":5.25,"y":2.45,"v":0.8},{"x":4.55,"e":4.75,"y":2.35,"v":1},{"x":5.2,"e":5.3,"y":2.35,"v":0.6},{"x":4.6,"e":4.8,"y":2.25,"v":0.7},{"x":5.2,"e":5.4,"y":2.25,"v":0.8},{"x":4.75,"e":4.9,"y":2.15,"v":0.8},{"x":5.7,"e":5.95,"y":2.15,"v":1.5},{"x":6,"e":6.1,"y":2.15,"v":1},{"x":4.85,"e":5,"y":2.05,"v":0.6},{"x":5.75,"e":5.85,"y":2.05,"v":1.5},{"x":5.85,"e":6.05,"y":2.05,"v":3},{"x":5.1,"e":5.3,"y":1.95,"v":0.8},{"x":5.9,"e":6.1,"y":1.95,"v":4.5},{"x":5.2,"e":5.4,"y":1.85,"v":0.9},{"x":5.9,"e":6.15,"y":1.85,"v":4.5},{"x":5.3,"e":5.5,"y":1.75,"v":1},{"x":5.95,"e":6.25,"y":1.75,"v":3},{"x":6.3,"e":6.45,"y":1.75,"v":1.5},{"x":5.4,"e":5.6,"y":1.65,"v":1.3},{"x":6.35,"e":6.6,"y":1.65,"v":2},{"x":5.5,"e":5.7,"y":1.55,"v":1.5},{"x":6.4,"e":6.75,"y":1.55,"v":2.5},{"x":5.6,"e":5.8,"y":1.45,"v":1.2},{"x":6.4,"e":6.65,"y":1.45,"v":3},{"x":6.7,"e":6.95,"y":1.45,"v":5},{"x":5.95,"e":6.05,"y":1.35,"v":1.5},{"x":6.65,"e":6.8,"y":1.35,"v":1},{"x":6.8,"e":7.05,"y":1.35,"v":5.5},{"x":5.9,"e":6.3,"y":1.25,"v":1.5},{"x":6.9,"e":7.15,"y":1.25,"v":4},{"x":7.25,"e":7.5,"y":1.25,"v":1.5},{"x":6.1,"e":6.35,"y":1.15,"v":1.5},{"x":6.65,"e":6.85,"y":1.15,"v":1.5},{"x":7,"e":7.15,"y":1.15,"v":1.5},{"x":7.15,"e":7.4,"y":1.15,"v":3.5},{"x":7.4,"e":7.7,"y":1.15,"v":5.5},{"x":6.15,"e":6.35,"y":1.05,"v":1},{"x":6.6,"e":6.95,"y":1.05,"v":2},{"x":7.3,"e":7.5,"y":1.05,"v":3},{"x":7.5,"e":7.7,"y":1.05,"v":8.5},{"x":7.7,"e":8,"y":1.05,"v":5.5},{"x":6.7,"e":6.95,"y":0.95,"v":1.5},{"x":7.45,"e":7.65,"y":0.95,"v":4.5},{"x":7.65,"e":7.85,"y":0.95,"v":9},{"x":7.85,"e":8.05,"y":0.95,"v":6.5},{"x":7,"e":7.3,"y":0.85,"v":0.8},{"x":7.8,"e":8.05,"y":0.85,"v":4},{"x":8.1,"e":8.15,"y":0.85,"v":3},{"x":8.15,"e":8.3,"y":0.85,"v":4},{"x":7.1,"e":7.35,"y":0.75,"v":1},{"x":7.4,"e":7.6,"y":0.75,"v":2.5},{"x":8.25,"e":8.4,"y":0.75,"v":6.5},{"x":7.3,"e":7.6,"y":0.65,"v":2.5},{"x":8.35,"e":8.55,"y":0.65,"v":5},{"x":7.35,"e":7.75,"y":0.55,"v":3},{"x":8.5,"e":8.7,"y":0.55,"v":7},{"x":8.7,"e":8.9,"y":0.55,"v":5},{"x":7.5,"e":7.9,"y":0.45,"v":2},{"x":8.6,"e":8.85,"y":0.45,"v":5},{"x":8.85,"e":9.1,"y":0.45,"v":7.5},{"x":9.1,"e":9.3,"y":0.45,"v":5},{"x":7.8,"e":8.1,"y":0.35,"v":0.8},{"x":8.8,"e":9.05,"y":0.35,"v":4},{"x":9.05,"e":9.45,"y":0.35,"v":8},{"x":9.45,"e":9.6,"y":0.35,"v":4},{"x":8.05,"e":8.6,"y":0.25,"v":1},{"x":8.95,"e":9.2,"y":0.25,"v":2.5},{"x":9.2,"e":9.6,"y":0.25,"v":8.5},{"x":9.6,"e":9.8,"y":0.25,"v":5},{"x":8.3,"e":8.9,"y":0.15,"v":1.3},{"x":9.4,"e":9.8,"y":0.15,"v":3.5},{"x":9.8,"e":9.95,"y":0.15,"v":5.5},{"x":8.6,"e":9,"y":0.05,"v":0.9},{"x":9.9,"e":10,"y":0.05,"v":4.5},
{"x":8.35,"e":8.45,"y":3.55,"v":0.4},{"x":8.3,"e":8.5,"y":3.35,"v":0.5},{"x":8.55,"e":8.7,"y":3.35,"v":0.6},{"x":8.4,"e":8.55,"y":3.15,"v":0.7},{"x":8.6,"e":8.8,"y":3.15,"v":0.8},{"x":8.45,"e":8.6,"y":2.95,"v":0.8},{"x":8.7,"e":8.95,"y":2.95,"v":0.8},{"x":8.5,"e":8.8,"y":2.75,"v":1.5},{"x":8.95,"e":9.15,"y":2.75,"v":1},{"x":8.7,"e":8.85,"y":2.55,"v":2.5},{"x":9,"e":9.15,"y":2.55,"v":0.9},{"x":8.7,"e":8.85,"y":2.45,"v":6},{"x":8.85,"e":9,"y":2.45,"v":2},{"x":8.75,"e":8.95,"y":2.35,"v":5},{"x":8.95,"e":9.1,"y":2.35,"v":1.5},{"x":8.8,"e":9.05,"y":2.25,"v":5},{"x":9.05,"e":9.25,"y":2.25,"v":2.5},{"x":8.9,"e":9.1,"y":2.15,"v":5.5},{"x":9.1,"e":9.3,"y":2.15,"v":3},{"x":8.95,"e":9.1,"y":2.05,"v":5},{"x":9.1,"e":9.25,"y":2.05,"v":8},{"x":9.25,"e":9.35,"y":2.05,"v":4},{"x":9,"e":9.15,"y":1.95,"v":4},{"x":9.15,"e":9.3,"y":1.95,"v":9},{"x":9.3,"e":9.45,"y":1.95,"v":4},{"x":9.1,"e":9.2,"y":1.85,"v":3.5},{"x":9.2,"e":9.35,"y":1.85,"v":7},{"x":9.35,"e":9.5,"y":1.85,"v":3},{"x":9.15,"e":9.3,"y":1.75,"v":3},{"x":9.3,"e":9.5,"y":1.75,"v":2},{"x":9.3,"e":9.6,"y":1.65,"v":5.5},{"x":9.3,"e":9.4,"y":1.55,"v":4},{"x":9.4,"e":9.55,"y":1.55,"v":7.5},{"x":9.55,"e":9.65,"y":1.55,"v":3},{"x":9.35,"e":9.5,"y":1.45,"v":4},{"x":9.5,"e":9.65,"y":1.45,"v":5},{"x":9.65,"e":9.8,"y":1.45,"v":1.5},{"x":9.4,"e":9.55,"y":1.35,"v":3.5},{"x":9.55,"e":9.65,"y":1.35,"v":8},{"x":9.65,"e":9.8,"y":1.35,"v":5},{"x":9.8,"e":9.9,"y":1.35,"v":1.5},{"x":9.5,"e":9.65,"y":1.25,"v":5},{"x":9.65,"e":9.8,"y":1.25,"v":8.5},{"x":9.8,"e":9.95,"y":1.25,"v":4},{"x":9.6,"e":9.7,"y":1.15,"v":3.5},{"x":9.7,"e":9.85,"y":1.15,"v":7.5},{"x":9.85,"e":10,"y":1.15,"v":3.5},{"x":9.6,"e":9.75,"y":1.05,"v":3},{"x":9.75,"e":9.95,"y":1.05,"v":6.5},{"x":9.95,"e":10,"y":1.05,"v":3},{"x":9.7,"e":9.85,"y":0.95,"v":2.5},{"x":9.85,"e":10,"y":0.95,"v":6.5},{"x":9.75,"e":9.95,"y":0.85,"v":2},{"x":9.95,"e":10,"y":0.85,"v":4},{"x":9.8,"e":10,"y":0.75,"v":3},{"x":9.85,"e":10,"y":0.65,"v":3.5},{"x":9.9,"e":10,"y":0.55,"v":2.5},{"x":9.85,"e":10,"y":0.45,"v":1.5},{"x":9.9,"e":10,"y":0.35,"v":1},
{"x":7.3,"e":7.45,"y":2.05,"v":0.5},{"x":7.95,"e":8.1,"y":2.05,"v":0.5},{"x":7.6,"e":7.9,"y":1.95,"v":0.5},{"x":7.7,"e":8.0,"y":1.85,"v":0.5},{"x":2.23,"e":2.26,"y":2.95,"v":2},{"x":2.42,"e":2.46,"y":2.5,"v":4},{"x":2.23,"e":2.27,"y":2.25,"v":8}]},
"hconcat":[
{"width":1039,"height":797,"encoding":{"x":{"field":"x","type":"quantitative","scale":{"domain":[0,10],"nice":false},"axis":{"values":[0,2,4,6,8,10],"title":"Time (ps)"}},"y":{"field":"y","type":"quantitative","scale":{"domain":[0,6],"nice":false},"axis":{"values":[0,1,2,3,4,5,6],"title":"Time (ps)"}}},"layer":[
{"data":{"name":"smear"},"mark":{"type":"rect","color":"#ecfbfe","clip":false},"encoding":{"x2":{"field":"e"},"y2":{"field":"y2"}}},
{"data":{"name":"ua"},"mark":{"type":"rect","height":14},"encoding":{"x2":{"field":"e"},"color":{"field":"v","type":"quantitative","legend":null,"scale":{"domain":[0,1,2,3,4,5,6,7,8,9],"range":["#00008b","#0000f0","#0060ff","#00c0ff","#30ffd0","#90ff70","#f0f000","#ff9000","#f02000","#a80000"]}}}},
{"data":{"name":"a"},"mark":{"type":"rect","height":14},"encoding":{"x2":{"field":"e"},"color":{"field":"v","type":"quantitative","legend":null}}},
{"data":{"name":"ta"},"mark":{"type":"text","font":"Liberation Sans","fontSize":60,"color":"#e8e8ff"},"encoding":{"text":{"field":"t"}}},
{"data":{"name":"la"},"mark":{"type":"text","font":"Liberation Serif","fontWeight":"bold","fontSize":62,"color":"#f4f4ff"},"encoding":{"text":{"field":"t"}}}]},
{"width":1039,"height":797,"encoding":{"x":{"field":"x","type":"quantitative","scale":{"domain":[0,10],"nice":false},"axis":{"values":[0,2,4,6,8,10],"title":"Time (ps)"}},"y":{"field":"y","type":"quantitative","scale":{"domain":[0,6],"nice":false},"axis":{"values":[0,1,2,3,4,5,6],"title":"Time (ps)"}}},"layer":[
{"data":{"name":"b"},"mark":{"type":"rect","height":14},"encoding":{"x2":{"field":"e"},"color":{"field":"v","type":"quantitative","legend":null,"scale":{"domain":[0,1,2,3,4,5,6,7,8,9],"range":["#00008b","#0000f0","#0060ff","#00c0ff","#30ffd0","#90ff70","#f0f000","#ff9000","#f02000","#a80000"]}}}},
{"data":{"name":"tb"},"mark":{"type":"text","font":"Liberation Sans","fontSize":60,"color":"#e8e8ff"},"encoding":{"text":{"field":"t"}}},
{"data":{"name":"lb"},"mark":{"type":"text","font":"Liberation Serif","fontWeight":"bold","fontSize":62,"color":"#f4f4ff"},"encoding":{"text":{"field":"t"}}}]},
{"width":1039,"height":797,"encoding":{"x":{"field":"x","type":"quantitative","scale":{"domain":[0,10],"nice":false},"axis":{"values":[0,2,4,6,8,10],"title":"Time (ps)"}},"y":{"field":"y","type":"quantitative","scale":{"domain":[0,6],"nice":false},"axis":{"values":[0,1,2,3,4,5,6],"title":"Time (ps)"}}},"layer":[
{"data":{"name":"uc"},"mark":{"type":"rect","height":14},"encoding":{"x2":{"field":"e"},"color":{"field":"v","type":"quantitative","legend":null,"scale":{"domain":[0,1,2,3,4,5,6,7,8,9],"range":["#00008b","#0000f0","#0060ff","#00c0ff","#30ffd0","#90ff70","#f0f000","#ff9000","#f02000","#a80000"]}}}},
{"data":{"name":"c"},"mark":{"type":"rect","height":14},"encoding":{"x2":{"field":"e"},"color":{"field":"v","type":"quantitative","legend":null}}},
{"data":{"name":"tc"},"mark":{"type":"text","font":"Liberation Sans","fontSize":60,"color":"#e8e8ff"},"encoding":{"text":{"field":"t"}}},
{"data":{"name":"lc"},"mark":{"type":"text","font":"Liberation Serif","fontWeight":"bold","fontSize":62,"color":"#f4f4ff"},"encoding":{"text":{"field":"t"}}}]}
]}
